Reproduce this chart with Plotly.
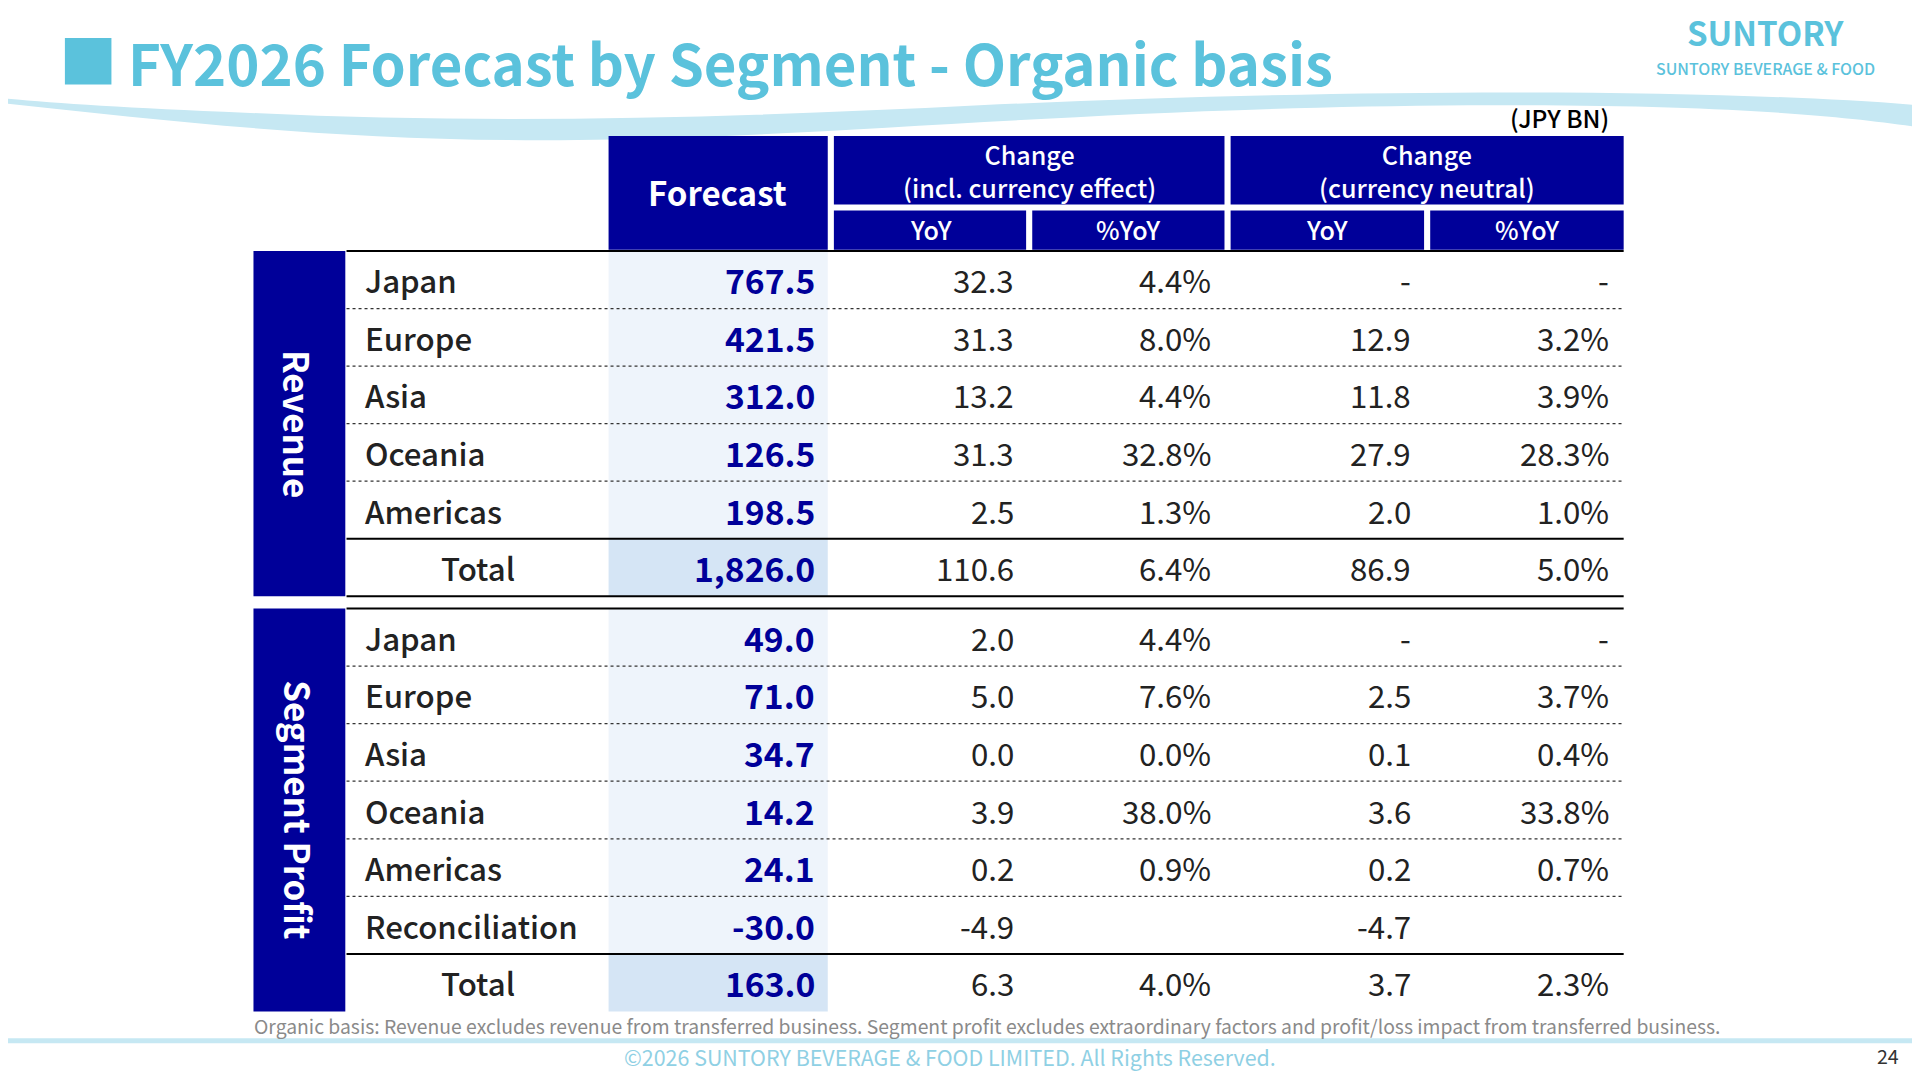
import plotly.graph_objects as go

S = 1920 / 1568  # reference was read in 1568-wide coordinates
OFF = 8 / S      # page body margin in reference units

FONT = "Noto Sans CJK JP"
NAVY = "#000099"

rev_regions = ["Japan", "Europe", "Asia", "Oceania", "Americas", "Total"]
rev_forecast = ["767.5", "421.5", "312.0", "126.5", "198.5", "1,826.0"]
rev_yoy = ["32.3", "31.3", "13.2", "31.3", "2.5", "110.6"]
rev_pct = ["4.4%", "8.0%", "4.4%", "32.8%", "1.3%", "6.4%"]
rev_yoy_cn = ["-", "12.9", "11.8", "27.9", "2.0", "86.9"]
rev_pct_cn = ["-", "3.2%", "3.9%", "28.3%", "1.0%", "5.0%"]

sp_regions = ["Japan", "Europe", "Asia", "Oceania", "Americas", "Reconciliation", "Total"]
sp_forecast = ["49.0", "71.0", "34.7", "14.2", "24.1", "-30.0", "163.0"]
sp_yoy = ["2.0", "5.0", "0.0", "3.9", "0.2", "-4.9", "6.3"]
sp_pct = ["4.4%", "7.6%", "0.0%", "38.0%", "0.9%", "", "4.0%"]
sp_yoy_cn = ["-", "2.5", "0.1", "3.6", "0.2", "-4.7", "3.7"]
sp_pct_cn = ["-", "3.7%", "0.4%", "33.8%", "0.7%", "", "2.3%"]

fig = go.Figure()
shapes = []
ann = []


def rect(x0, y0, x1, y1, color):
    shapes.append(dict(type="rect", x0=x0, y0=y0, x1=x1, y1=y1, fillcolor=color,
                       line=dict(width=0), layer="below"))


def hline(y, dash="solid", width=2, color="black", x0=283, x1=1326):
    shapes.append(dict(type="line", x0=x0, x1=x1, y0=y, y1=y,
                       line=dict(color=color, width=width, dash=dash)))


def text(x, y, s, size, color="#222", anchor="center", weight=400, angle=0):
    ann.append(dict(x=x, y=y, text=s, showarrow=False, xanchor=anchor, yanchor="middle",
                    textangle=angle, borderpad=0,
                    font=dict(family=FONT, size=size * S, color=color, weight=weight)))


# header wave
shapes.append(dict(type="path",
                   path="M0,84 C150,100 300,118 500,114 C700,110 900,88 1200,86 C1400,85 1500,94 1568,104 L1568,86 C1400,72 1100,72 800,86 C600,96 400,102 200,92 C100,88 40,84 0,80 Z",
                   fillcolor="#c6e8f3", line=dict(width=0), layer="below"))
# title
rect(53, 31, 91, 69, "#5bc2dc")
text(104, 50, "FY2026 Forecast by Segment - Organic basis", 46, "#5bc2dc", "left", 700)
text(1442, 26, "SUNTORY", 27, "#5bc2dc", "center", 700)
text(1442, 56, "SUNTORY BEVERAGE & FOOD", 13, "#5bc2dc", "center", 500)
text(1315, 96, "(JPY BN)", 20, "black", "right", 500)

# header cells
rect(497, 111, 676, 204, NAVY)
rect(681, 111, 1000, 167, NAVY)
rect(1005, 111, 1326, 167, NAVY)
for a, b in [(681, 838), (843, 1000), (1005, 1163), (1168, 1326)]:
    rect(a, 172, b, 204, NAVY)
text(586, 157, "Forecast", 27, "white", weight=700)
text(841, 139, "Change<br>(incl. currency effect)", 20.5, "white", weight=500)
text(1165, 139, "Change<br>(currency neutral)", 20.5, "white", weight=500)
for cx, lab in [(760, "YoY"), (921, "%YoY"), (1084, "YoY"), (1247, "%YoY")]:
    text(cx, 187, lab, 20.5, "white", weight=500)

RH = 47
col_x = [829, 990, 1153, 1315]


def block(top, regions, fc, c1, c2, c3, c4, side):
    n = len(regions)
    bottom = top + n * RH
    rect(207, top, 282, bottom, NAVY)
    text(244, (top + bottom) / 2, side, 28.5, "white", weight=700, angle=90)
    for i, reg in enumerate(regions):
        y0 = top + i * RH
        ym = y0 + RH / 2
        total = reg == "Total"
        rect(497, y0, 676, y0 + RH, "#d5e5f5" if total else "#eef4fb")
        if total:
            text(390, ym, reg, 25.5, "#222", weight=500)
        else:
            text(297, ym, reg, 25.5, "#222", "left", 500)
        text(666, ym, fc[i], 27.5, NAVY, "right", 700)
        for x, vals in zip(col_x, [c1, c2, c3, c4]):
            text(x, ym, vals[i], 25.5, "#222", "right", 400)
        if i > 0:
            if total:
                hline(y0, width=2)
            else:
                hline(y0, dash="dot", width=1.2, color="#333")
    hline(top, width=2)
    return bottom


b = block(205, rev_regions, rev_forecast, rev_yoy, rev_pct, rev_yoy_cn, rev_pct_cn, "Revenue")
hline(b, width=2)
block(497, sp_regions, sp_forecast, sp_yoy, sp_pct, sp_yoy_cn, sp_pct_cn, "Segment Profit")

text(207, 838, "Organic basis: Revenue excludes revenue from transferred business. Segment profit excludes extraordinary factors and profit/loss impact from transferred business.",
     15.8, "#8a8a8a", "left")

# footer
rect(0, 848, 1568, 852, "#c6e8f3")
text(776, 863, "©2026 SUNTORY BEVERAGE & FOOD LIMITED. All Rights Reserved.", 17.5, "#8fd0e4")
text(1542, 862, "24", 16, "#333")

fig.update_layout(
    width=1904, height=1064, margin=dict(l=0, r=0, t=0, b=0),
    paper_bgcolor="white", plot_bgcolor="white",
    xaxis=dict(range=[OFF, 1568 - OFF], visible=False, fixedrange=True),
    yaxis=dict(range=[882 - OFF, OFF], visible=False, fixedrange=True),
    shapes=shapes, annotations=ann, showlegend=False,
)
fig.write_html("out.html")
